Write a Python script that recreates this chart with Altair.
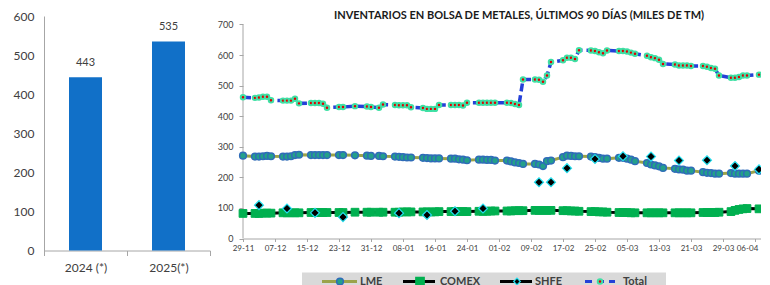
import altair as alt
import pandas as pd

# ---------------- data ----------------
YEARS = ["2024 (*)", "2025(*)"]
YEAR_AVG = [443, 535]

SERIES = ["LME", "COMEX", "SHFE", "Total"]
TITLE = "INVENTARIOS EN BOLSA DE METALES, ÚLTIMOS 90 DÍAS (MILES DE TM)"

HOLIDAYS = ["2024-12-25", "2024-12-26", "2025-01-01"]
DAYS = [d.strftime("%Y-%m-%d") for d in pd.bdate_range("2024-11-29", "2025-04-07")
        if d.strftime("%Y-%m-%d") not in HOLIDAYS]

TOTAL = [462,
         460, 461, 464, 464, 452,
         451, 451, 451, 457, 442,
         443, 443, 443, 441, 428,
         430, 430, 433,
         432, 430, 428, 438,
         437, 436, 436, 436, 429,
         427, 424, 424, 424, 437,
         437, 437, 437, 435, 444,
         444, 444, 444, 444, 444,
         444, 443, 440, 437, 520,
         520, 519, 513, 533, 577,
         583, 591, 591, 587, 616,
         615, 613, 609, 606, 615,
         613, 613, 612, 608, 604,
         598, 593, 590, 585, 571,
         569, 566, 566, 566, 564,
         564, 562, 558, 555, 533,
         526, 526, 528, 533, 533,
         536]

LME = [271,
       268, 268, 269, 270, 269,
       268, 268, 269, 273, 274,
       273, 273, 273, 273, 273,
       273, 273, 272,
       271, 270, 270, 269,
       268, 267, 266, 265, 265,
       264, 263, 262, 262, 262,
       261, 261, 259, 258, 256,
       258, 258, 257, 257, 255,
       255, 252, 249, 247, 244,
       244, 242, 237, 253, 255,
       266, 271, 270, 269, 269,
       268, 266, 264, 261, 261,
       264, 264, 261, 258, 253,
       247, 242, 239, 236, 231,
       228, 226, 225, 222, 222,
       217, 215, 214, 212, 212,
       214, 212, 212, 212, 212,
       222]

COMEX = [82,
         82, 82, 83, 83, 83,
         84, 84, 84, 84, 84,
         85, 85, 85, 85, 85,
         85, 85, 86,
         86, 86, 86, 86,
         86, 86, 87, 87, 87,
         87, 87, 87, 87, 88,
         88, 88, 88, 88, 88,
         89, 89, 89, 90, 90,
         90, 90, 91, 91, 91,
         92, 92, 92, 92, 92,
         91, 91, 90, 90, 89,
         88, 88, 87, 87, 86,
         85, 85, 85, 84, 84,
         84, 84, 84, 84, 84,
         84, 84, 84, 84, 84,
         85, 85, 85, 85, 86,
         88, 92, 95, 97, 98,
         97]

SHFE_DATES = ["2024-12-03", "2024-12-10", "2024-12-17", "2024-12-24", "2025-01-07",
              "2025-01-14", "2025-01-21", "2025-01-28", "2025-02-11", "2025-02-14",
              "2025-02-18", "2025-02-25", "2025-03-04", "2025-03-11", "2025-03-18",
              "2025-03-25", "2025-04-01", "2025-04-07"]
SHFE = [109, 98, 84, 70, 83, 77, 89, 98, 184, 184, 230, 260, 269, 268, 255, 256, 237, 226]

TICKS = ["2024-11-29", "2024-12-07", "2024-12-15", "2024-12-23", "2024-12-31",
         "2025-01-08", "2025-01-16", "2025-01-24", "2025-02-01", "2025-02-09",
         "2025-02-17", "2025-02-25", "2025-03-05", "2025-03-13", "2025-03-21",
         "2025-03-29", "2025-04-06"]
LEFT_TICKS = [0, 100, 200, 300, 400, 500, 600]
RIGHT_TICKS = [0, 100, 200, 300, 400, 500, 600, 700]

# ---------------- style ----------------
FONT = "Lato"
AX = "#a6a6a6"
TXT = "#404040"
BLUE_BAR = "#1170c8"
OLIVE = "#9ba34a"
LME_FILL = "#23a08a"
LME_STROKE = "#2f6cb8"
GREEN = "#00b050"
CYAN = "#22e0f0"
TOT_BLUE = "#2440d8"
TOT_RED = "#e00000"
TOT_HALO = "#3ee0a4"


def dt(s, **extra):
    y, m, d = map(int, s.split("-"))
    return alt.DateTime(year=y, month=m, date=d, **extra)


# ---------------- left panel ----------------
left_df = pd.DataFrame({"year": YEARS, "value": YEAR_AVG})
lx = alt.X("year:N", sort=YEARS, title=None,
           scale=alt.Scale(paddingInner=0, paddingOuter=0),
           axis=alt.Axis(labelAngle=0, tickBand="extent", ticks=True, tickSize=5,
                         tickColor=AX, domainColor=AX, labelPadding=7, labelFontSize=12,
                         labelFont=FONT, labelColor=TXT, grid=False))
ly = alt.Y("value:Q", title=None, scale=alt.Scale(domain=[0, 600], nice=False),
           axis=alt.Axis(values=LEFT_TICKS, ticks=False, labelPadding=10, domainColor=AX,
                         labelFontSize=12, labelFont=FONT, labelColor=TXT, grid=False))
bars = alt.Chart(left_df).mark_bar(size=33, color=BLUE_BAR).encode(x=lx, y=ly)
bar_txt = alt.Chart(left_df).mark_text(dy=-14, fontSize=11, font=FONT, color=TXT,
                                       baseline="middle").encode(x=lx, y=ly, text="value:Q")
left = alt.layer(bars, bar_txt).properties(width=166, height=234.5)

# ---------------- right panel ----------------
daily = pd.DataFrame({"date": [d + "T00:00:00" for d in DAYS],
                      "LME": LME, "COMEX": COMEX, "Total": TOTAL})
long = daily.melt("date", var_name="series", value_name="value")
shfe_df = pd.DataFrame({"date": [d + "T00:00:00" for d in SHFE_DATES], "value": SHFE})
one = pd.DataFrame({"k": [0]})

last_label = {"condition": {"test": "datum.value > time(datetime(2025, 3, 1))", "value": -8},
              "value": 0}
xs = alt.X("date:T", title=None,
           scale=alt.Scale(domain=[dt("2024-11-29"), dt("2025-04-08")]),
           axis=alt.Axis(values=[dt(t) for t in TICKS], format="%d-%m", labelFlush=False,
                         labelOverlap=False, tickSize=3, tickColor=AX, domainColor=AX,
                         labelPadding=3, labelFontSize=8, labelFont=FONT, labelColor=TXT,
                         labelOffset=last_label, grid=False))
yaxis = alt.Axis(values=RIGHT_TICKS, domain=False, tickSize=4, tickColor=AX, labelPadding=6,
                 labelFontSize=9, labelFont=FONT, labelColor=TXT, grid=False)
yscale = alt.Scale(domain=[0, 727.8], nice=False)
ys = alt.Y("value:Q", title=None, scale=yscale, axis=yaxis)


def series(name):
    return alt.Chart(long).transform_filter(alt.datum.series == name)


rule_df = pd.DataFrame({"y0": [RIGHT_TICKS[0]], "y1": [RIGHT_TICKS[-1]]})
y_rule = alt.Chart(rule_df).mark_rule(color=AX, strokeWidth=1).encode(
    x=alt.value(0), y=alt.Y("y0:Q", title=None, scale=yscale, axis=yaxis), y2="y1:Q")

comex_line = series("COMEX").mark_line(color="black", strokeWidth=3).encode(x=xs, y=ys)
comex_pts = series("COMEX").mark_point(shape="square", filled=True, fill=GREEN, stroke=GREEN,
                                       strokeWidth=1, size=60, opacity=1).encode(x=xs, y=ys)
lme_line = series("LME").mark_line(color=OLIVE, strokeWidth=3).encode(x=xs, y=ys)
lme_pts = series("LME").mark_point(shape="circle", filled=True, fill=LME_FILL, stroke=LME_STROKE,
                                   strokeWidth=1.5, size=45, opacity=1).encode(x=xs, y=ys)
shfe_pts = alt.Chart(shfe_df).mark_point(shape="diamond", filled=True, fill="black", stroke=CYAN,
                                         strokeWidth=1.2, size=80, opacity=1).encode(x=xs, y=ys)
tot_line = series("Total").mark_line(color=TOT_BLUE, strokeWidth=3.5,
                                     strokeDash=[8, 4]).encode(x=xs, y=ys)
tot_pts = series("Total").mark_point(shape="circle", filled=True, fill=TOT_RED, stroke=TOT_HALO,
                                     strokeWidth=2, size=20, opacity=1).encode(x=xs, y=ys)

title_txt = alt.Chart(pd.DataFrame({"t": [TITLE]})).mark_text(
    font=FONT, fontSize=11, fontWeight="bold", color="#1a1a1a", align="center",
    baseline="middle").encode(text="t:N", x=alt.value(276), y=alt.value(-0.5))

# legend (drawn by hand, below the axis)
LEG_Y = 265.5
leg_box = alt.Chart(one).mark_rect(color="#d9d9d9").encode(
    x=alt.value(59), x2=alt.value(423), y=alt.value(256.5), y2=alt.value(276))


def leg_line(x1, x2, color, dash=None):
    kw = dict(color=color, strokeWidth=3)
    if dash:
        kw["strokeDash"] = dash
    return alt.Chart(one).mark_rule(**kw).encode(x=alt.value(x1), x2=alt.value(x2),
                                                 y=alt.value(LEG_Y))


def leg_pt(x, **style):
    return alt.Chart(one).mark_point(filled=True, opacity=1, **style).encode(
        x=alt.value(x), y=alt.value(LEG_Y))


def leg_txt(x, label):
    return alt.Chart(pd.DataFrame({"t": [label]})).mark_text(
        align="left", baseline="middle", fontSize=11, fontWeight="bold", font=FONT,
        color=TXT).encode(x=alt.value(x), y=alt.value(LEG_Y), text="t:N")


legend = [
    leg_box,
    leg_line(79, 114, OLIVE),
    leg_pt(97, shape="circle", fill=LME_FILL, stroke=LME_STROKE, strokeWidth=1.5, size=45),
    leg_txt(117, SERIES[0]),
    leg_line(160, 192, "black"),
    leg_pt(177, shape="square", fill=GREEN, stroke=GREEN, size=60),
    leg_txt(197, SERIES[1]),
    leg_line(257, 289, "black"),
    leg_pt(274, shape="diamond", fill="black", stroke=CYAN, strokeWidth=1.2, size=45),
    leg_txt(292, SERIES[2]),
    leg_line(342, 372, TOT_BLUE, dash=[7, 5]),
    leg_pt(357, shape="circle", fill=TOT_RED, stroke=TOT_HALO, strokeWidth=2, size=20),
    leg_txt(380, SERIES[3]),
]

right = alt.layer(
    y_rule, comex_line, comex_pts, lme_line, lme_pts, shfe_pts, tot_line, tot_pts,
    title_txt, *legend
).properties(width=520, height=222.5)

chart = alt.hconcat(left, right, spacing=33, bounds="flush").properties(
    padding={"left": 5, "top": 1, "right": -5, "bottom": 0}
).configure_view(stroke=None)

chart.save("out.html", embed_options={"renderer": "svg", "actions": False})
